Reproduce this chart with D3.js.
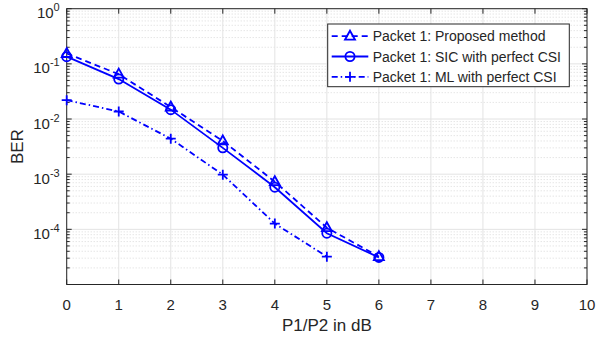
<!DOCTYPE html>
<html>
<head>
<meta charset="utf-8">
<script src="https://cdn.jsdelivr.net/npm/d3@7"></script>
<style>
  body { margin: 0; background: #fff; }
  svg { display: block; font-family: 'Liberation Sans', Arial, Helvetica, sans-serif; }
</style>
</head>
<body>
<div id="graph"></div>
<script>
// values
const xVals = [0, 1, 2, 3, 4, 5, 6];
const proposedBer = [0.154, 0.065, 0.0165, 0.0040, 7.3e-4, 1.07e-4, 3.2e-5];
const sicBer = [0.135, 0.053, 0.0148, 0.0030, 5.8e-4, 8.5e-5, 3.1e-5];
const mlX = [0, 1, 2, 3, 4, 5];
const mlBer = [0.022, 0.0137, 0.0044, 9.8e-4, 1.27e-4, 3.2e-5];
const xTicks = [0, 1, 2, 3, 4, 5, 6, 7, 8, 9, 10];
const yExponents = [0, -1, -2, -3, -4];
const legendLabels = ['Packet 1: Proposed method', 'Packet 1: SIC with perfect CSI', 'Packet 1: ML with perfect CSI'];

const width = 597, height = 339;
const margin = { top: 8.7, left: 66.7, right: 10, bottom: 54.5 };
const axisColor = '#262626';
const blue = '#0000ff';

const svg = d3.select('#graph').append('svg')
  .attr('width', width).attr('height', height);
svg.append('rect').attr('width', width).attr('height', height).attr('fill', '#fff');

const x = d3.scaleLinear().domain([0, 10]).range([margin.left, width - margin.right]);
const y = d3.scaleLog().domain([1e-5, 1]).range([height - margin.bottom, margin.top]);

const x0 = x.range()[0], x1 = x.range()[1];
const y0 = y.range()[0], y1 = y.range()[1];

// minor ticks in y: 2..9 times each decade
let minorY = [];
for (let e = -5; e < 0; e++) {
  for (let m = 2; m <= 9; m++) minorY.push(m * Math.pow(10, e));
}
const majorY = yExponents.map(function(e) { return Math.pow(10, e); });

const grid = svg.append('g');
grid.selectAll('line.minor').data(minorY).enter().append('line')
  .attr('x1', x0).attr('x2', x1)
  .attr('y1', function(d) { return y(d); }).attr('y2', function(d) { return y(d); })
  .attr('stroke', '#d0d0d0').attr('stroke-width', 0.8).attr('stroke-dasharray', '1,2');
grid.selectAll('line.hmaj').data(majorY).enter().append('line')
  .attr('x1', x0).attr('x2', x1)
  .attr('y1', function(d) { return y(d); }).attr('y2', function(d) { return y(d); })
  .attr('stroke', '#e3e3e3').attr('stroke-width', 1);
grid.selectAll('line.vmaj').data(xTicks).enter().append('line')
  .attr('x1', function(d) { return x(d); }).attr('x2', function(d) { return x(d); })
  .attr('y1', y0).attr('y2', y1)
  .attr('stroke', '#e3e3e3').attr('stroke-width', 1);

// box axes with inward ticks
const axes = svg.append('g');
axes.append('rect')
  .attr('x', x0).attr('y', y1).attr('width', x1 - x0).attr('height', y0 - y1)
  .attr('fill', 'none').attr('stroke', axisColor).attr('stroke-width', 1);

xTicks.forEach(function(t) {
  axes.append('line').attr('x1', x(t)).attr('x2', x(t)).attr('y1', y0).attr('y2', y0 - 5)
    .attr('stroke', axisColor);
  axes.append('line').attr('x1', x(t)).attr('x2', x(t)).attr('y1', y1).attr('y2', y1 + 5)
    .attr('stroke', axisColor);
  axes.append('text').attr('x', x(t)).attr('y', y0 + 25)
    .attr('text-anchor', 'middle').attr('font-size', 15).attr('fill', axisColor)
    .text(t);
});

majorY.concat(minorY).forEach(function(v) {
  const len = majorY.indexOf(v) >= 0 ? 5 : 3;
  axes.append('line').attr('x1', x0).attr('x2', x0 + len).attr('y1', y(v)).attr('y2', y(v))
    .attr('stroke', axisColor);
  axes.append('line').attr('x1', x1).attr('x2', x1 - len).attr('y1', y(v)).attr('y2', y(v))
    .attr('stroke', axisColor);
});

yExponents.forEach(function(e) {
  const t = axes.append('text')
    .attr('x', x0 - 7).attr('y', y(Math.pow(10, e)) + 9.5)
    .attr('text-anchor', 'end').attr('fill', axisColor).attr('font-size', 15);
  t.append('tspan').text('10');
  t.append('tspan').attr('font-size', 11).attr('dy', -7).text(e === 0 ? '0' : '-' + Math.abs(e));
});

svg.append('text')
  .attr('x', (x0 + x1) / 2).attr('y', 331)
  .attr('text-anchor', 'middle').attr('font-size', 17).attr('fill', axisColor)
  .text('P1/P2 in dB');
svg.append('text')
  .attr('transform', 'translate(22.5,' + ((y0 + y1) / 2) + ') rotate(-90)')
  .attr('text-anchor', 'middle').attr('font-size', 17).attr('fill', axisColor)
  .text('BER');

// series
const series = [
  { xs: xVals, ys: proposedBer, dash: '6,4', marker: 'tri' },
  { xs: xVals, ys: sicBer, dash: null, marker: 'circle' },
  { xs: mlX, ys: mlBer, dash: '6,3,1.5,3', marker: 'plus' }
];

function drawMarker(g, kind, cx, cy) {
  if (kind === 'tri') {
    g.append('path')
      .attr('d', 'M' + cx + ',' + (cy - 5.5) + 'L' + (cx + 5) + ',' + (cy + 3.5) + 'L' + (cx - 5) + ',' + (cy + 3.5) + 'Z')
      .attr('fill', 'none').attr('stroke', blue).attr('stroke-width', 1.8);
  } else if (kind === 'circle') {
    g.append('circle').attr('cx', cx).attr('cy', cy).attr('r', 4.6)
      .attr('fill', 'none').attr('stroke', blue).attr('stroke-width', 1.8);
  } else {
    g.append('path')
      .attr('d', 'M' + (cx - 5) + ',' + cy + 'H' + (cx + 5) + 'M' + cx + ',' + (cy - 5) + 'V' + (cy + 5))
      .attr('fill', 'none').attr('stroke', blue).attr('stroke-width', 1.8);
  }
}

const plot = svg.append('g');
const line = d3.line()
  .x(function(d) { return x(d[0]); })
  .y(function(d) { return y(d[1]); });

series.forEach(function(s) {
  const pts = s.xs.map(function(v, i) { return [v, s.ys[i]]; });
  plot.append('path').datum(pts)
    .attr('d', line)
    .attr('fill', 'none').attr('stroke', blue).attr('stroke-width', 1.8)
    .attr('stroke-dasharray', s.dash);
  pts.forEach(function(p) { drawMarker(plot, s.marker, x(p[0]), y(p[1])); });
});

// legend
const leg = svg.append('g');
leg.append('rect')
  .attr('x', 327.7).attr('y', 24).attr('width', 241.6).attr('height', 62.7)
  .attr('fill', '#fff').attr('stroke', axisColor).attr('stroke-width', 1);
series.forEach(function(s, i) {
  const cy = 36.2 + i * 20.3;
  leg.append('line').attr('x1', 331.7).attr('x2', 368.3).attr('y1', cy).attr('y2', cy)
    .attr('stroke', blue).attr('stroke-width', 1.8).attr('stroke-dasharray', s.dash);
  drawMarker(leg, s.marker, 350, cy);
  leg.append('text').attr('x', 372.7).attr('y', cy + 5)
    .attr('font-size', 14).attr('fill', axisColor)
    .text(legendLabels[i]);
});
</script>
</body>
</html>
